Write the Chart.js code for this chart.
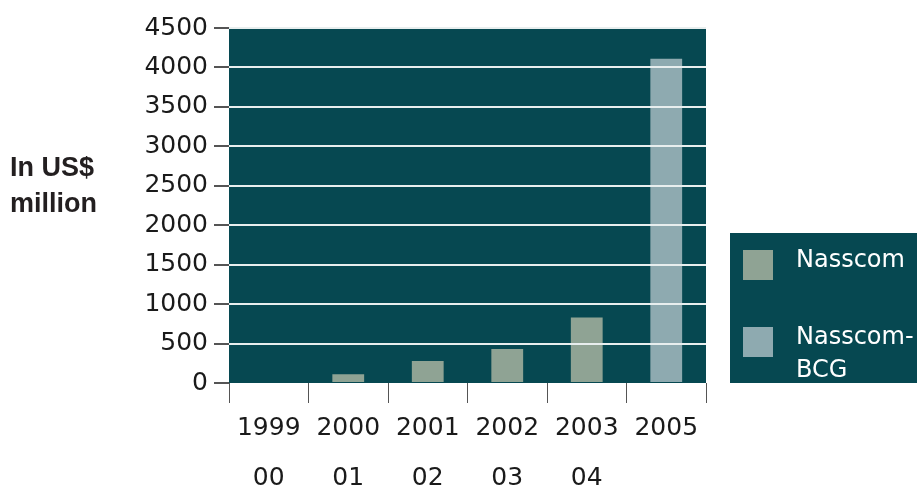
<!DOCTYPE html>
<html>
<head>
<meta charset="utf-8">
<script src="https://cdn.jsdelivr.net/npm/chart.js@4"></script>
<style>
	html, body { margin: 0; padding: 0; background: #fff; }
	#wrap { width: 917px; height: 489px; }
</style>
</head>
<body>
<div id="wrap"><canvas id="chart" width="917" height="489"></canvas></div>
<script>
// values (US$ million)
const years = [["1999", "00"], ["2000", "01"], ["2001", "02"], ["2002", "03"], ["2003", "04"], ["2005"]];
const nasscom = [null, 110, 280, 430, 830, null];
const nasscomBcg = [null, null, null, null, null, 4110];
const yTicks = [0, 500, 1000, 1500, 2000, 2500, 3000, 3500, 4000, 4500];
const axisTitle = ["In US$", "million"];

const teal = "#064851";
const tickFont = { family: "DejaVu Sans", size: 25 };

// teal plot background, under the grid
const plotBg = {
	id: "plotBg",
	beforeDraw(chart) {
		const { ctx, chartArea: a } = chart;
		ctx.save();
		ctx.fillStyle = teal;
		ctx.fillRect(a.left, a.top, a.right - a.left, a.bottom - a.top);
		ctx.restore();
	},
};

// side title + boxed legend on the right
const extras = {
	id: "extras",
	afterDraw(chart) {
		const { ctx, chartArea: a } = chart;
		ctx.save();
		ctx.fillStyle = "#231f20";
		ctx.font = "bold 27px 'Liberation Sans'";
		ctx.textBaseline = "alphabetic";
		axisTitle.forEach((t, i) => ctx.fillText(t, 10, 176 + i * 36));

		const boxLeft = a.right + 24;
		const boxTop = 233;
		ctx.fillStyle = teal;
		ctx.fillRect(boxLeft, boxTop, chart.width - boxLeft, a.bottom - boxTop);

		ctx.font = "24px 'DejaVu Sans'";
		const rows = [17, 94];
		chart.data.datasets.forEach((ds, i) => {
			const y = boxTop + rows[i];
			ctx.fillStyle = ds.backgroundColor;
			ctx.fillRect(boxLeft + 13, y, 30, 30);
			ctx.fillStyle = "#ffffff";
			const lines = ds.label.split(/(?<=-)/);
			lines.forEach((l, j) => ctx.fillText(l, boxLeft + 66, y + 17 + j * 33));
		});
		ctx.restore();
	},
};

new Chart(document.getElementById("chart"), {
	type: "bar",
	data: {
		labels: years,
		datasets: [
			{
				label: "Nasscom",
				data: nasscom,
				backgroundColor: "#8fa394",
				grouped: false,
			},
			{
				label: "Nasscom-BCG",
				data: nasscomBcg,
				backgroundColor: "#8eaab0",
				grouped: false,
			},
		],
	},
	options: {
		responsive: false,
		animation: false,
		layout: { padding: { top: 28, right: 211, left: 0, bottom: 0 } },
		categoryPercentage: 1,
		barPercentage: 0.4,
		plugins: {
			legend: { display: false },
			tooltip: { enabled: false },
		},
		scales: {
			x: {
				border: { display: false },
				grid: {
					offset: true,
					drawOnChartArea: false,
					tickLength: 20,
					tickColor: "#555",
				},
				ticks: {
					font: { ...tickFont, lineHeight: 2 },
					color: "#1a1a1a",
					maxRotation: 0,
					autoSkip: false,
					padding: 0,
				},
				afterFit(scale) {
					scale.height = 106;
				},
			},
			y: {
				min: 0,
				max: 4500,
				border: { display: false },
				afterBuildTicks(scale) {
					scale.ticks = yTicks.map((v) => ({ value: v }));
				},
				grid: {
					z: 1,
					color: (c) => (c.tick && c.tick.value === 0 ? "rgba(0,0,0,0)" : "#e8eeee"),
					lineWidth: 2,
					tickLength: 15,
					tickColor: "#555",
					tickWidth: 2,
				},
				ticks: {
					font: tickFont,
					color: "#1a1a1a",
					padding: 6,
					callback: (v) => String(v),
				},
				afterFit(scale) {
					scale.width = 229;
				},
			},
		},
	},
	plugins: [plotBg, extras],
});
</script>
</body>
</html>
